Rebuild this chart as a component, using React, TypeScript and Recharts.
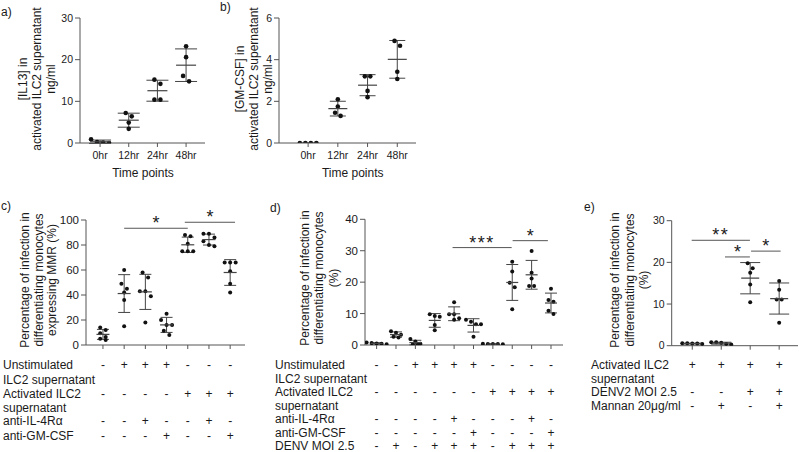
import React from 'react'
import { ScatterChart, Scatter, XAxis, YAxis, ErrorBar, ReferenceLine } from 'recharts'

const W = 799
const H = 452
const YW = 40
const XH = 30
const FONT = '"Liberation Sans", Arial, Helvetica, sans-serif'
const INK = '#1a1a1a'
const AXIS = '#555'

// a) / b) time course
const timeLabels = ['0hr', '12hr', '24hr', '48hr']
const il13 = [
  [0.1, 0.9, 0, 0.2],
  [7.2, 6.4, 4.9, 3.4],
  [15.2, 14.2, 10.4, 10.4],
  [23.2, 20.6, 16.1, 14.8],
]
const gmcsf = [
  [0, 0, 0, 0],
  [2.1, 1.75, 1.45, 1.3],
  [3.2, 3.2, 2.5, 2.2],
  [4.9, 4.67, 3.42, 3.07],
]

// c) MMR expressing monocytes
const mmr = [
  [14, 12, 9.5, 6.5, 5, 4],
  [60, 49, 45, 42, 36, 15],
  [58, 54, 43, 43, 39, 18],
  [25, 20, 16, 16, 11.5, 8],
  [88, 87, 81, 75, 75, 75],
  [89, 89, 86, 83, 80, 79],
  [66, 66, 66, 59, 49, 42],
]
const rowsC = ['Unstimulated', 'ILC2 supernatant', 'Activated ILC2', 'supernatant', 'anti-IL-4R\u03b1', 'anti-GM-CSF']
const signsC = [
  ['-', '+', '+', '+', '-', '-', '-'],
  [],
  ['-', '-', '-', '-', '+', '+', '+'],
  [],
  ['-', '-', '+', '-', '-', '+', '-'],
  ['-', '-', '-', '+', '-', '-', '+'],
]

// d) DENV infection
const denv = [
  [0.2, 0.4, 0.6, 0.8, 0.5],
  [4.4, 3.9, 3.3, 2.6, 2.4],
  [1.9, 1.1, 0.4, 0.2, 0.3],
  [9.8, 9.2, 9.0, 6.4, 4.7],
  [13.6, 9.8, 9.8, 8.5, 8.0],
  [8.0, 7.4, 6.6, 6.6, 2.6],
  [0.3, 0.4, 0.3, 0.2, 0.3],
  [26.5, 23.4, 19.8, 18.4, 11.4],
  [29.9, 23.0, 21.2, 18.8, 18.8],
  [17.9, 14.3, 13.8, 10.9, 9.9],
]
const rowsD = ['Unstimulated', 'ILC2 supernatant', 'Activated ILC2', 'supernatant', 'anti-IL-4R\u03b1', 'anti-GM-CSF', 'DENV MOI 2.5']
const signsD = [
  ['-', '-', '+', '+', '+', '+', '-', '-', '-', '-'],
  [],
  ['-', '-', '-', '-', '-', '-', '+', '+', '+', '+'],
  [],
  ['-', '-', '-', '-', '+', '-', '-', '-', '+', '-'],
  ['-', '-', '-', '-', '-', '+', '-', '-', '-', '+'],
  ['-', '+', '-', '+', '+', '+', '-', '+', '+', '+'],
]

// e) mannan
const mannan = [
  [0.6, 0.5, 0.4, 0.6, 0.5],
  [0.4, 0.7, 0.8, 0.8, 0.3],
  [19.8, 18.6, 17.5, 14.7, 10.4],
  [15.5, 13.4, 11.1, 11.1, 5.5],
]
const rowsE = ['Activated ILC2', 'supernatant', 'DENV2 MOI 2.5', 'Mannan 20\u03bcg/ml']
const signsE = [
  ['+', '+', '+', '+'],
  [],
  ['-', '-', '+', '+'],
  ['-', '+', '-', '+'],
]

const sigC = [
  { from: 2, to: 5, y: 93.4, text: '*' },
  { from: 4.86, to: 7.23, y: 98.2, text: '*' },
]
const sigD = [
  { from: 4.92, to: 7.97, y: 31.0, text: '***' },
  { from: 8.02, to: 9.84, y: 33.2, text: '*' },
]
const sigE = [
  { from: 0.98, to: 2.99, y: 25.3, text: '**' },
  { from: 2.13, to: 2.99, y: 21.3, text: '*' },
  { from: 3.03, to: 4.05, y: 22.7, text: '*' },
]

// prism-like row layout: close values share a row, centred on the category
function swarm(groups: number[][], yPx: number, xPx: number, gap: number) {
  const pts: any[] = []
  groups.forEach((vals, gi) => {
    const rows: number[][] = []
    ;[...vals].sort((a, b) => b - a).forEach((v) => {
      const row = rows[rows.length - 1]
      if (row && (row[0] - v) * yPx < gap) row.push(v)
      else rows.push([v])
    })
    rows.forEach((row) =>
      row.forEach((v, i) => pts.push({ x: gi + 1 + ((i - (row.length - 1) / 2) * gap) / xPx, y: v }))
    )
  })
  return pts
}

function summary(groups: number[][]) {
  return groups.map((vals, i) => {
    const m = vals.reduce((s, v) => s + v, 0) / vals.length
    const sd = Math.sqrt(vals.reduce((s, v) => s + (v - m) ** 2, 0) / (vals.length - 1))
    return { x: i + 1, y: m, sd }
  })
}

const starLabel = (text: string) => (props: any) => {
  const vb = props.viewBox
  return (
    <text x={vb.x + vb.width / 2} y={vb.y + 1} textAnchor="middle" fontSize={18} fill={INK} letterSpacing={text.length > 1 ? 1.5 : 0}>
      {text}
    </text>
  )
}

const DotPanel = (p: any) => {
  const { groups, axisX, xEnd, top, bottom, lo, hi, yMax, yTicks, r, gap, meanW, capW, fs, sig } = p
  const xPx = (xEnd - axisX) / (hi - lo)
  const yPx = (bottom - top) / yMax
  const pts = swarm(groups, yPx, xPx, gap)
  const stats = summary(groups)
  const ticks = groups.map((_: any, i: number) => i + 1)

  const signTick = (tp: any) => {
    const col = tp.payload.value - 1
    return (
      <g>
        {p.rowY.map((ry: number, ri: number) =>
          p.signs[ri][col] ? (
            <text key={ri} x={tp.x} y={ry} dy="0.35em" textAnchor="middle" fontSize={12} fill={INK}>
              {p.signs[ri][col]}
            </text>
          ) : null
        )}
      </g>
    )
  }

  return (
    <div style={{ position: 'absolute', left: 0, top: 0 }}>
      <ScatterChart
        width={W}
        height={H}
        margin={{ top, left: axisX - YW, right: W - xEnd, bottom: H - bottom - XH }}
      >
        <XAxis
          type="number"
          dataKey="x"
          domain={[lo, hi]}
          allowDataOverflow
          ticks={ticks}
          interval={0}
          height={XH}
          tickSize={4}
          tickMargin={5}
          axisLine={{ stroke: AXIS }}
          tickLine={{ stroke: AXIS }}
          tick={p.labels ? { fontSize: fs, fill: INK } : signTick}
          tickFormatter={p.labels ? (v: number) => p.labels[v - 1] : undefined}
        />
        <YAxis
          type="number"
          dataKey="y"
          domain={[0, yMax]}
          allowDataOverflow
          ticks={yTicks}
          interval={0}
          width={YW}
          tickSize={5}
          tickMargin={2}
          axisLine={{ stroke: AXIS }}
          tickLine={{ stroke: AXIS }}
          tick={{ fontSize: fs, fill: INK }}
        />
        {(sig || []).map((s: any, i: number) => (
          <ReferenceLine
            key={i}
            segment={[{ x: s.from, y: s.y }, { x: s.to, y: s.y }]}
            stroke={AXIS}
            ifOverflow="visible"
            label={starLabel(s.text)}
          />
        ))}
        <Scatter
          data={pts}
          isAnimationActive={false}
          shape={(d: any) => <circle cx={d.cx} cy={d.cy} r={r} fill="#111" />}
        />
        <Scatter
          data={stats}
          isAnimationActive={false}
          shape={(d: any) => (
            <line x1={d.cx - meanW / 2} x2={d.cx + meanW / 2} y1={d.cy} y2={d.cy} stroke="#444" strokeWidth={1.2} />
          )}
        >
          <ErrorBar dataKey="sd" direction="y" width={capW} stroke="#444" strokeWidth={1} isAnimationActive={false} />
        </Scatter>
      </ScatterChart>
    </div>
  )
}

const VLabel = ({ x, y, gap, lines }: any) => (
  <g>
    {lines.map((t: string, i: number) => (
      <text
        key={i}
        transform={`translate(${x + i * gap},${y}) rotate(-90)`}
        textAnchor="middle"
        dy="0.35em"
        fontSize={12}
        fill={INK}
      >
        {t}
      </text>
    ))}
  </g>
)

const RowLabels = ({ x, ys, rows }: any) => (
  <g>
    {rows.map((t: string, i: number) => (
      <text key={i} x={x} y={ys[i]} dy="0.35em" fontSize={12} fill={INK}>
        {t}
      </text>
    ))}
  </g>
)

const rowYC = [365, 379.5, 394, 407.5, 421, 435.5]
const rowYD = [364.5, 378.3, 392, 405.5, 419, 432.5, 445.8]
const rowYE = [365, 378.3, 391.7, 406]

export default function App() {
  return (
    <div style={{ position: 'absolute', left: 0, top: 0, width: W, height: H, background: '#fff', fontFamily: FONT }}>
      <DotPanel groups={il13} labels={timeLabels} axisX={80} xEnd={205} top={18} bottom={143} lo={0.3} hi={4.66}
        yMax={30} yTicks={[0, 10, 20, 30]} r={2.3} gap={6} meanW={20} capW={11} fs={10.5} />
      <DotPanel groups={gmcsf} labels={timeLabels} axisX={279} xEnd={416} top={18} bottom={143} lo={0.02} hi={4.63}
        yMax={6} yTicks={[0, 2, 4, 6]} r={2.3} gap={5.5} meanW={19} capW={8} fs={10.5} />
      <DotPanel groups={mmr} signs={signsC} rowY={rowYC} axisX={86} xEnd={245} top={220} bottom={345} lo={0.2} hi={7.7}
        yMax={100} yTicks={[0, 20, 40, 60, 80, 100]} r={2} gap={5.5} meanW={13} capW={6} fs={11.5} sig={sigC} />
      <DotPanel groups={denv} signs={signsD} rowY={rowYD} axisX={365} xEnd={563} top={219.3} bottom={345} lo={0.4} hi={10.62}
        yMax={40} yTicks={[0, 10, 20, 30, 40]} r={2} gap={5} meanW={12} capW={6} fs={11.5} sig={sigD} />
      <DotPanel groups={mannan} signs={signsE} rowY={rowYE} axisX={671.7} xEnd={798} top={220.7} bottom={345.7} lo={0.29} hi={4.65}
        yMax={30} yTicks={[0, 10, 20, 30]} r={2} gap={5} meanW={18} capW={10} fs={10.5} sig={sigE} />

      <svg width={W} height={H} style={{ position: 'absolute', left: 0, top: 0, pointerEvents: 'none' }}>
        <g fontSize={12} fill={INK}>
          <text x={1} y={12} dy="0.35em">a)</text>
          <text x={220} y={7} dy="0.35em">b)</text>
          <text x={1} y={206} dy="0.35em">c)</text>
          <text x={270} y={207.5} dy="0.35em">d)</text>
          <text x={584} y={207} dy="0.35em">e)</text>
          <text x={143} y={177} textAnchor="middle">Time points</text>
          <text x={352.75} y={177} textAnchor="middle">Time points</text>
        </g>
        <VLabel x={23} y={79} gap={14} lines={['[IL13] in', 'activated ILC2 supernatant', 'ng/ml']} />
        <VLabel x={240} y={79} gap={14} lines={['[GM-CSF] in', 'activated ILC2 supernatant', 'ng/ml']} />
        <VLabel x={25} y={280} gap={13.5} lines={['Percentage of infection in', 'differentiating monocytes', 'expressing MMR (%)']} />
        <VLabel x={304.5} y={278} gap={14.5} lines={['Percentage of infection in', 'differentiating monocytes', '(%)']} />
        <VLabel x={615} y={280} gap={14.5} lines={['Percentage of infection in', 'differentiating monocytes', '(%)']} />
        <RowLabels x={3} ys={rowYC} rows={rowsC} />
        <RowLabels x={275} ys={rowYD} rows={rowsD} />
        <RowLabels x={591} ys={rowYE} rows={rowsE} />
      </svg>
    </div>
  )
}
